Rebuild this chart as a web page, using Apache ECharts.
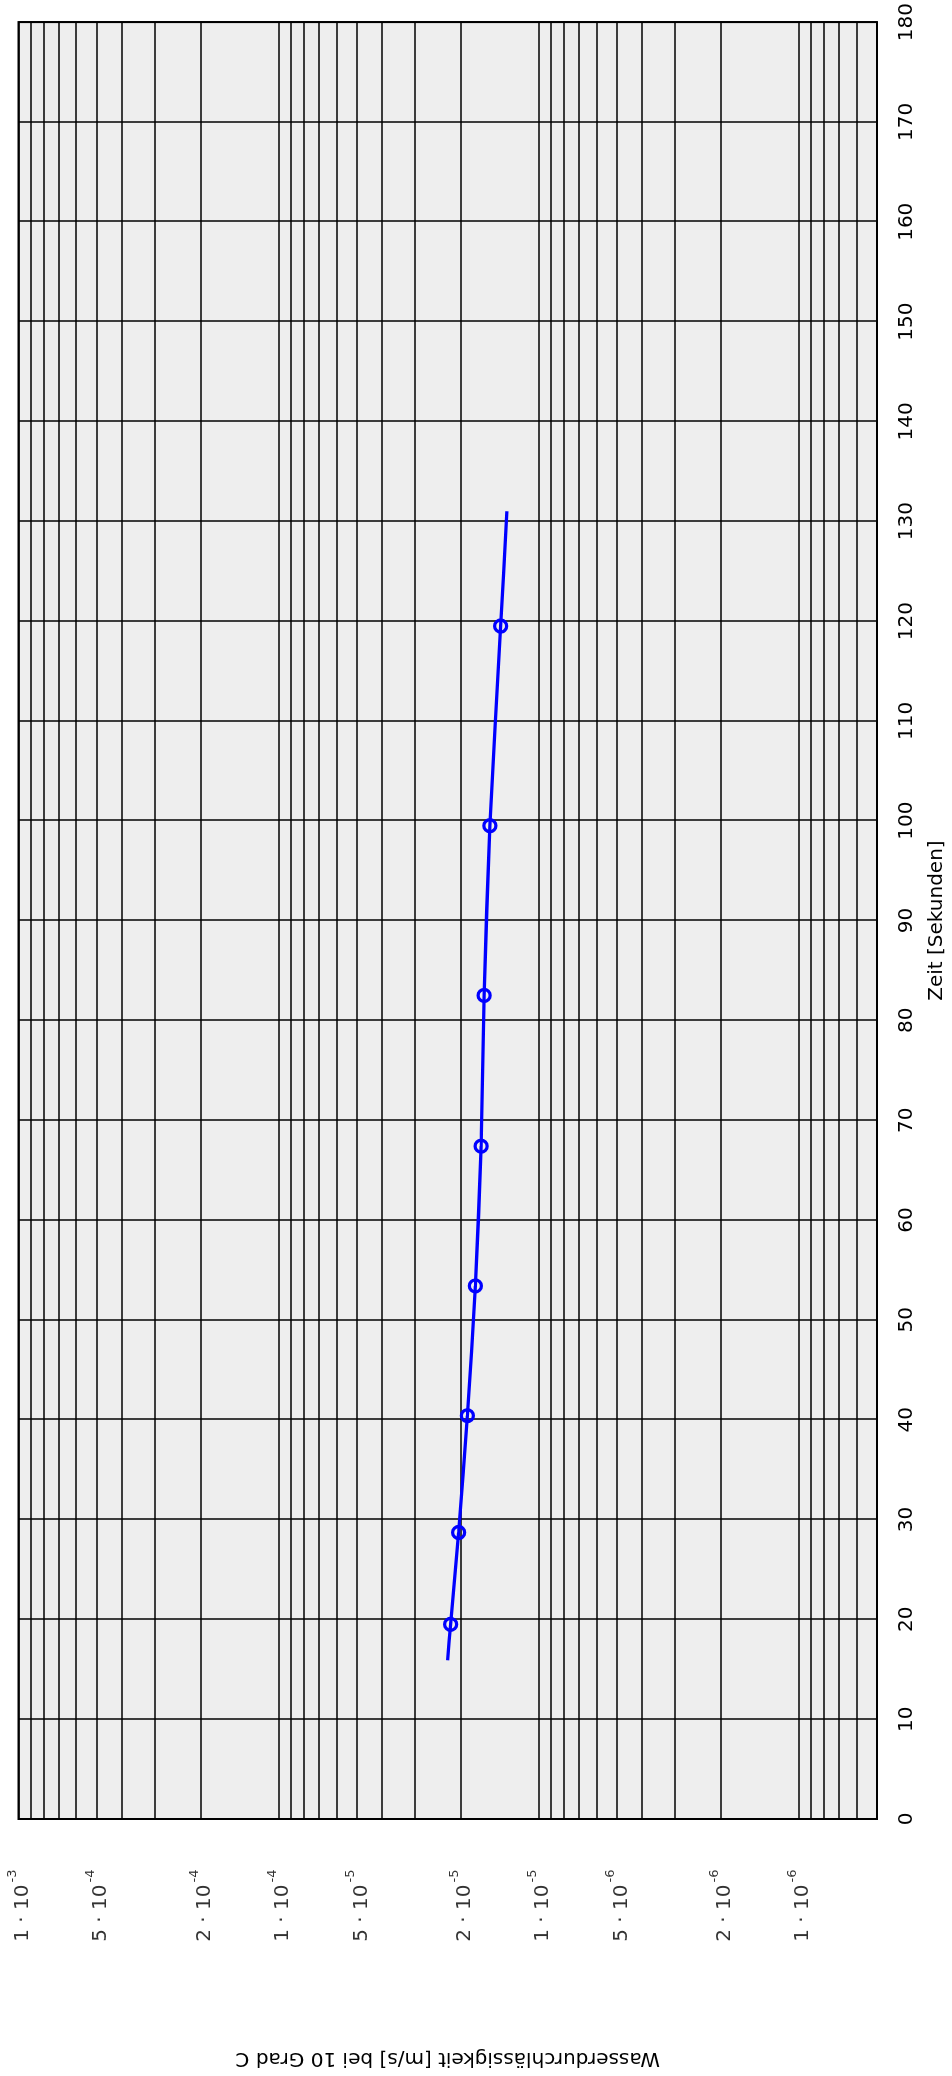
<!DOCTYPE html>
<html><head><meta charset="utf-8">
<script src="https://cdn.jsdelivr.net/npm/echarts@6/dist/echarts.min.js"></script>
<style>
html,body{margin:0;padding:0;width:952px;height:2076px;overflow:hidden;background:#fff}
#chart{position:absolute;left:0;top:2076px;width:2076px;height:952px;transform:rotate(-90deg);transform-origin:0 0;}
</style></head><body><div id="chart"></div>
<script>
// measured points (time in s, permeability in m/s)
const timeSec = [19.5, 28.7, 40.4, 53.4, 67.4, 82.5, 99.5, 119.5];
const permeability = [2.18e-5, 2.03e-5, 1.88e-5, 1.75e-5, 1.665e-5, 1.62e-5, 1.54e-5, 1.40e-5];
// fitted curve (extends beyond the measurements)
const curveTime = [15.9, 19.5, 28.7, 40.4, 53.4, 67.4, 82.5, 99.5, 119.5, 131];
const curveValue = [2.24e-5, 2.18e-5, 2.03e-5, 1.88e-5, 1.75e-5, 1.665e-5, 1.62e-5, 1.54e-5, 1.40e-5, 1.324e-5];
// axes
const timeMin = 0, timeMax = 180, timeStep = 10;
const kMin = 5e-7, kMax = 1e-3;
const gridValues = [1e-3, 9e-4, 8e-4, 7e-4, 6e-4, 5e-4, 4e-4, 3e-4, 2e-4,
  1e-4, 9e-5, 8e-5, 7e-5, 6e-5, 5e-5, 4e-5, 3e-5, 2e-5,
  1e-5, 9e-6, 8e-6, 7e-6, 6e-6, 5e-6, 4e-6, 3e-6, 2e-6,
  1e-6, 9e-7, 8e-7, 7e-7, 6e-7, 5e-7];
const labelValues = [1e-3, 5e-4, 2e-4, 1e-4, 5e-5, 2e-5, 1e-5, 5e-6, 2e-6, 1e-6];
const labelMantissa = ['1', '5', '2', '1', '5', '2', '1', '5', '2', '1'];
const labelExponent = ['-3', '-4', '-4', '-4', '-5', '-5', '-5', '-6', '-6', '-6'];
const xTitle = 'Zeit [Sekunden]';
const yTitle = 'Wasserdurchlässigkeit [m/s] bei 10 Grad C';

const FONT = 'DejaVu Sans';
const chart = echarts.init(document.getElementById('chart'));

chart.setOption({
  animation: false,
  backgroundColor: '#ffffff',
  grid: {
    left: 257, right: 21, top: 18.5, bottom: 72,
    show: true, backgroundColor: '#eeeeee', borderColor: '#000', borderWidth: 2
  },
  xAxis: {
    type: 'value', min: timeMin, max: timeMax, interval: timeStep,
    axisLine: { show: false }, axisTick: { show: false },
    axisLabel: { fontSize: 20, color: '#000', fontFamily: FONT, margin: 20 },
    splitLine: { show: true, lineStyle: { color: '#000', width: 1.5 } },
    name: xTitle, nameLocation: 'middle', nameGap: 50,
    nameTextStyle: { fontSize: 20, color: '#000', fontFamily: FONT }
  },
  yAxis: {
    type: 'log', logBase: 10, min: kMin, max: kMax,
    axisLine: { show: false }, axisTick: { show: false },
    axisLabel: { show: false }, splitLine: { show: false },
    name: yTitle, nameLocation: 'middle', nameGap: 229, nameRotate: 90,
    nameTextStyle: { fontSize: 20, color: '#000', fontFamily: FONT }
  },
  series: [
    {
      // log-axis grid lines (1..9 x 10^n)
      type: 'line', z: 1, silent: true, showSymbol: false,
      data: curveTime.map((t, i) => [t, curveValue[i]]),
      lineStyle: { opacity: 0 },
      markLine: {
        silent: true, symbol: ['none', 'none'], precision: 20,
        lineStyle: { color: '#000', width: 1.5, type: 'solid' },
        label: { show: false },
        emphasis: { disabled: true },
        data: gridValues.map(v => ({ yAxis: v }))
      }
    },
    {
      // log-axis tick labels, anchored at the axis (time = min)
      type: 'scatter', z: 2, silent: true, clip: false, symbol: 'circle', symbolSize: 1,
      data: labelValues.map(v => [timeMin, v]),
      itemStyle: { color: 'rgba(0,0,0,0)' },
      label: {
        show: true, position: 'left', distance: 50,
        fontSize: 20, fontFamily: FONT, color: '#000',
        formatter: p => '{m|' + labelMantissa[p.dataIndex] + ' · 10}{e|' + labelExponent[p.dataIndex] + '}',
        rich: {
          m: { fontSize: 20, fontFamily: FONT, color: '#000', lineHeight: 20, verticalAlign: 'bottom' },
          e: { fontSize: 13, fontFamily: FONT, color: '#000', lineHeight: 29, verticalAlign: 'top', padding: [2, 0, 14, 2] }
        }
      },
      emphasis: { disabled: true }
    },
    {
      type: 'line', z: 5, silent: true, showSymbol: false, smooth: 0.25,
      data: curveTime.map((t, i) => [t, curveValue[i]]),
      lineStyle: { color: '#0000ff', width: 3.3 }
    },
    {
      type: 'scatter', z: 6, silent: true, symbol: 'circle', symbolSize: 12,
      data: timeSec.map((t, i) => [t, permeability[i]]),
      itemStyle: { color: 'rgba(0,0,0,0)', borderColor: '#0000ff', borderWidth: 3.3, opacity: 1 }
    }
  ]
});
</script></body></html>
